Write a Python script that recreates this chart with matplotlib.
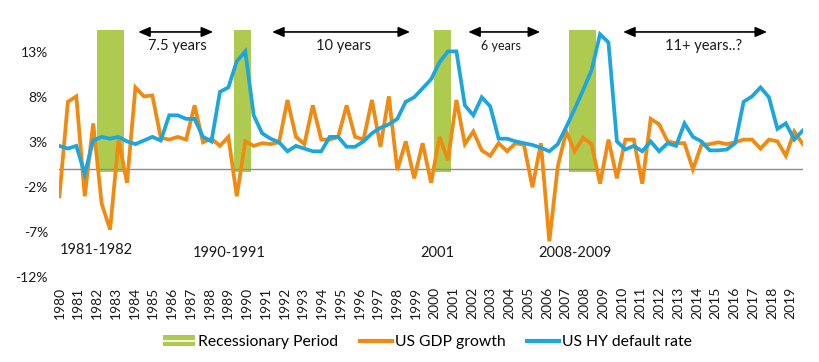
import numpy as np
import matplotlib
matplotlib.use('Agg')
import matplotlib.pyplot as plt
from matplotlib.patches import Patch
from matplotlib.lines import Line2D

plt.rcParams['font.family'] = ['Lato', 'DejaVu Sans']

# semi-annual-ish observations, 1980 -> 2019
gdp = [-3.0, 7.5, 8.1, -3.0, 5.1, -3.8, -6.7, 3.3, -1.5, 9.1,
       8.1, 8.2, 3.5, 3.3, 3.6, 3.3, 7.1, 3.0, 3.4, 2.6,
       3.6, -3.0, 3.1, 2.6, 2.9, 2.8, 3.0, 7.7, 3.6, 2.8,
       7.1, 3.3, 3.3, 3.6, 7.1, 3.6, 3.3, 7.7, 2.5, 8.1,
       -0.1, 3.1, -1.0, 2.9, -1.5, 3.6, 1.0, 7.7, 2.8, 4.2,
       2.1, 1.5, 2.9, 2.0, 2.9, 2.7, -2.0, 2.9, -8.0, 0.3,
       4.2, 2.0, 3.5, 2.8, -1.6, 3.3, -1.0, 3.3, 3.3, -1.6,
       5.6, 5.0, 3.1, 2.9, 2.9, 0.0, 2.7, 2.8, 3.0, 2.8,
       3.0, 3.3, 3.3, 2.3, 3.3, 3.1, 1.5, 4.2, 2.8]

hy_default = [2.6, 2.3, 2.6, -0.5, 3.2, 3.6, 3.4, 3.6, 3.1, 2.8,
              3.2, 3.6, 3.2, 6.0, 6.0, 5.6, 5.6, 3.6, 3.1, 8.6,
              9.1, 12.0, 13.1, 6.0, 4.0, 3.4, 3.0, 2.0, 2.6, 2.3,
              2.0, 2.0, 3.6, 3.6, 2.5, 2.5, 3.1, 4.0, 4.6, 5.0,
              5.6, 7.5, 8.0, 9.0, 10.0, 11.9, 13.1, 13.1, 7.1, 6.0,
              8.0, 7.0, 3.4, 3.4, 3.1, 2.9, 2.7, 2.4, 2.0, 2.8,
              4.7, 6.7, 8.8, 11.0, 15.0, 14.1, 3.1, 2.2, 2.6, 2.0,
              3.1, 2.0, 2.9, 2.6, 5.1, 3.6, 3.1, 2.1, 2.1, 2.2,
              2.9, 7.5, 8.1, 9.1, 8.0, 4.5, 5.1, 3.3, 4.3]

years = list(range(1980, 2020))
yticks = [-12, -7, -2, 3, 8, 13]

rec_start = [1982.0, 1989.3, 2000.0, 2007.15]
rec_end = [1983.45, 1990.2, 2000.9, 2008.6]
rec_labels = ['1981-1982', '1990-1991', '2001', '2008-2009']
rec_label_x = [1981.96, 1989.05, 2000.17, 2007.48]
rec_label_y = [-9.0, -9.3, -9.3, -9.3]

arrow_from = [1984.2, 1991.34, 2001.8, 2010.06]
arrow_to = [1988.2, 1998.7, 2005.64, 2017.74]
arrow_text = ['7.5 years', '10 years', '6 years', '11+ years..?']
arrow_text_x = [1986.3, 1995.16, 2003.54, 2014.37]
arrow_text_size = [10.5, 10.5, 9, 10.5]

c_green = '#AFCB4F'
c_orange = '#F08A10'
c_blue = '#1CA6DD'

t = np.linspace(1980.0, 2019.64, len(gdp))

fig = plt.figure(figsize=(8.2, 3.62), dpi=100)
ax = fig.add_axes([0.072, 0.234, 0.9074, 0.6837])

# recession bars
ax.bar(rec_start, 15.45 + 0.33, width=np.array(rec_end) - np.array(rec_start),
       bottom=-0.33, align='edge', color=c_green, zorder=1)
ax.axhline(0, color='#8C8C8C', lw=1, zorder=2)

ax.plot(t, gdp, color=c_orange, lw=2.7, zorder=3, solid_joinstyle='miter')
ax.plot(t, hy_default, color=c_blue, lw=2.7, zorder=4, solid_joinstyle='miter')

for x0, x1, txt, tx, fs in zip(arrow_from, arrow_to, arrow_text, arrow_text_x, arrow_text_size):
    ax.annotate('', xy=(x1, 15.26), xytext=(x0, 15.26),
                arrowprops=dict(arrowstyle='<|-|>,head_length=0.7,head_width=0.3',
                                color='black', lw=1.2, shrinkA=0, shrinkB=0),
                annotation_clip=False)
    ax.text(tx, 13.75, txt, ha='center', va='center', fontsize=fs, color='#1a1a1a')

for lab, lx, ly in zip(rec_labels, rec_label_x, rec_label_y):
    ax.text(lx, ly, lab, ha='center', va='center', fontsize=10.5, color='#1a1a1a')

ax.set_xlim(1979.98, 2019.66)
ax.set_ylim(-12, 15.5)
ax.set_xticks(years)
ax.set_xticklabels([str(y) for y in years], rotation=90, fontsize=10, color='#1a1a1a')
ax.set_yticks(yticks)
ax.set_yticklabels([f'{v}%' for v in yticks], fontsize=10, color='#1a1a1a')
ax.tick_params(axis='both', length=0)
ax.tick_params(axis='x', pad=7)
ax.tick_params(axis='y', pad=8)
for s in ax.spines.values():
    s.set_visible(False)

handles = [(Patch(facecolor=c_green, edgecolor='none'), Line2D([], [], color='white', lw=1.2)),
           Line2D([], [], color=c_orange, lw=3),
           Line2D([], [], color=c_blue, lw=3)]
fig.legend(handles, ['Recessionary Period', 'US GDP growth', 'US HY default rate'],
           loc='center', bbox_to_anchor=(427.5 / 820, 1 - 342 / 362), ncol=3, frameon=False,
           fontsize=11.3, handlelength=2.05, handletextpad=0.2, columnspacing=1.35)

fig.savefig('out.png', dpi=100)
